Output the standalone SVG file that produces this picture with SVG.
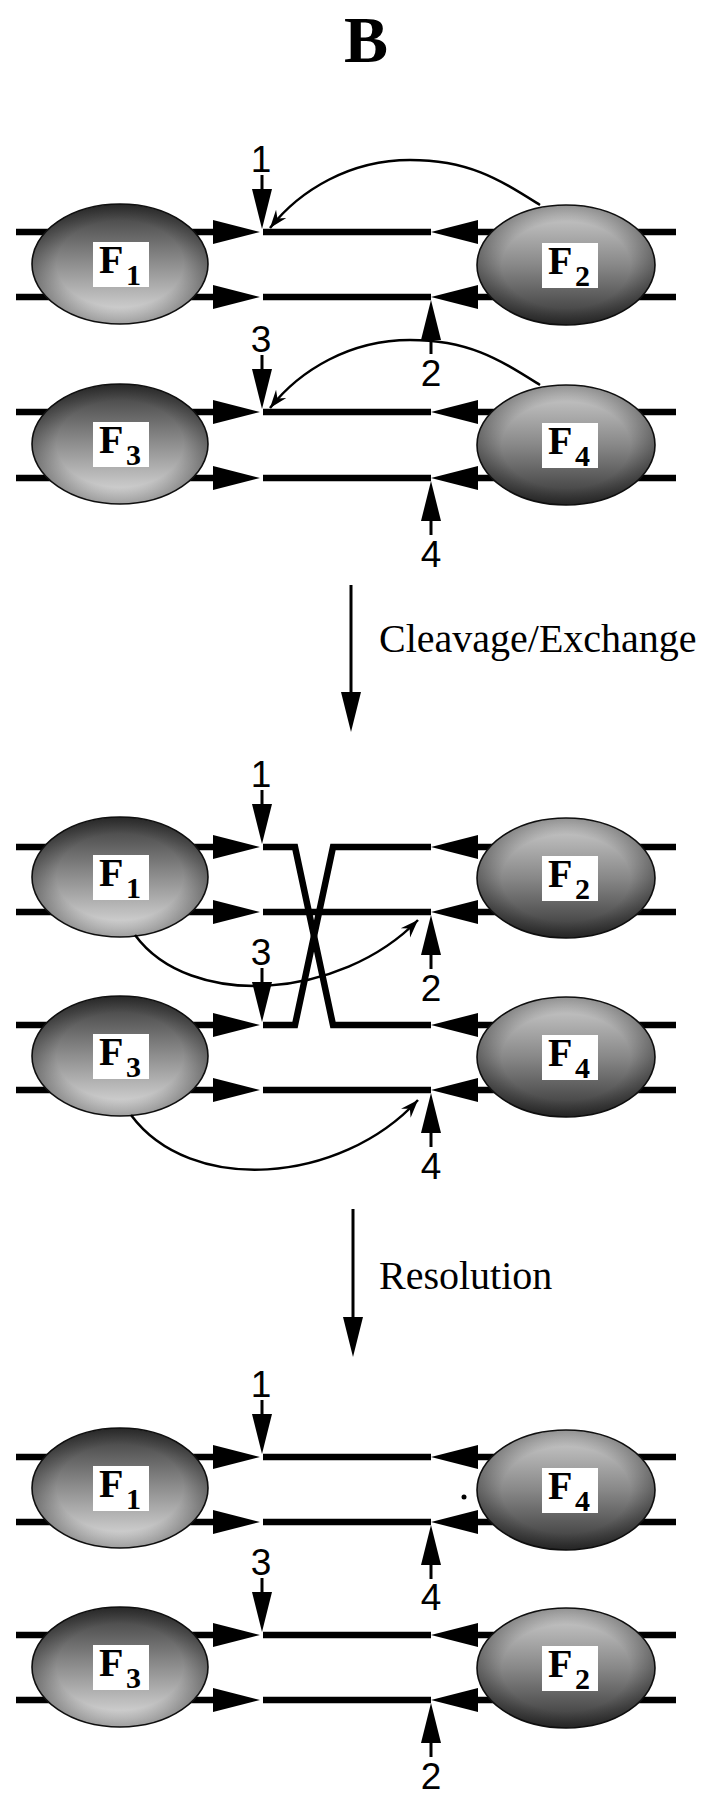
<svg xmlns="http://www.w3.org/2000/svg" xmlns:xlink="http://www.w3.org/1999/xlink" width="706" height="1800" viewBox="0 0 706 1800">
<style>
.strand{fill:none;stroke:#000;stroke-width:6.5;stroke-linejoin:miter;stroke-miterlimit:10}
.curve{fill:none;stroke:#000;stroke-width:2.5}
.shaft{stroke:#000;stroke-width:3}
.ell{stroke:#111;stroke-width:1.6}
.box{fill:#fff}
.F{font-family:"Liberation Serif","Times New Roman",serif;font-weight:bold;font-size:40px;fill:#000}
.sub{font-size:30px}
.num{font-family:"Liberation Sans Narrow","Liberation Sans",Arial,sans-serif;font-size:37px;fill:#000;text-anchor:middle}
.step{font-family:"Liberation Serif","Times New Roman",serif;font-size:40px;fill:#000}
</style>
<defs>
<linearGradient id="gL" x1="0" y1="0" x2="0" y2="1">
<stop offset="0" stop-color="#383838"/>
<stop offset="0.45" stop-color="#868686"/>
<stop offset="1" stop-color="#e2e2e2"/>
</linearGradient>
<linearGradient id="gR" x1="0" y1="0" x2="0" y2="1">
<stop offset="0" stop-color="#d0d0d0"/>
<stop offset="0.5" stop-color="#888"/>
<stop offset="1" stop-color="#333"/>
</linearGradient>
<radialGradient id="gEdge" cx="0.5" cy="0.5" r="0.5">
<stop offset="0.72" stop-color="#000" stop-opacity="0"/>
<stop offset="1" stop-color="#000" stop-opacity="0.3"/>
</radialGradient>
<polygon id="ahR" points="-47,-12 -47,12 0,0" fill="#000"/>
<polygon id="ahL" points="47,-12 47,12 0,0" fill="#000"/>
<g id="dn"><line class="shaft" x1="0" y1="-38" x2="0" y2="-54"/><polygon points="-10,-40 10,-40 0,0" fill="#000"/></g>
<g id="up"><line class="shaft" x1="0" y1="38" x2="0" y2="54"/><polygon points="-10,40 10,40 0,0" fill="#000"/></g>
<marker id="mh" markerUnits="userSpaceOnUse" markerWidth="22" markerHeight="16" viewBox="-18 -8 22 16" refX="0" refY="0" orient="auto">
<path d="M0,0 L-18,-6.5 L-12,0 L-18,6.5 Z" fill="#000"/>
</marker>
</defs>
<rect width="706" height="1800" fill="#fff"/>

<text id="title" x="366" y="62" text-anchor="middle" font-family="Liberation Serif,Times New Roman,serif" font-weight="bold" font-size="66">B</text>

<g id="strands">
<path class="strand" d="M16 232H215M263 232H431M476 232H676"/>
<path class="strand" d="M16 297H215M263 297H431M476 297H676"/>
<path class="strand" d="M16 412H215M263 412H431M476 412H676"/>
<path class="strand" d="M16 478H215M263 478H431M476 478H676"/>
<path class="strand" d="M16 847H215M476 847H676"/>
<path class="strand" d="M263 847H295L333 1025H431"/>
<path class="strand" d="M16 912H215M263 912H431M476 912H676"/>
<path class="strand" d="M16 1025H215M476 1025H676"/>
<path class="strand" d="M263 1025H295L333 847H431"/>
<path class="strand" d="M16 1090H215M263 1090H431M476 1090H676"/>
<path class="strand" d="M16 1457H215M263 1457H431M476 1457H676"/>
<path class="strand" d="M16 1522H215M263 1522H431M476 1522H676"/>
<path class="strand" d="M16 1635H215M263 1635H431M476 1635H676"/>
<path class="strand" d="M16 1700H215M263 1700H431M476 1700H676"/>
</g>

<g id="s1-F1"><ellipse class="ell" cx="120" cy="264" rx="88" ry="60" fill="url(#gL)"/><ellipse cx="120" cy="264" rx="88" ry="60" fill="url(#gEdge)"/><rect class="box" x="93" y="242" width="56" height="45"/><text class="F" x="99" y="273">F<tspan class="sub" x="126" y="285">1</tspan></text></g>
<g id="s1-F2"><ellipse class="ell" cx="566" cy="265" rx="89" ry="60" fill="url(#gR)"/><ellipse cx="566" cy="265" rx="89" ry="60" fill="url(#gEdge)"/><rect class="box" x="542" y="243" width="56" height="45"/><text class="F" x="548" y="274">F<tspan class="sub" x="575" y="286">2</tspan></text></g>
<g id="s1-F3"><ellipse class="ell" cx="120" cy="444" rx="88" ry="60" fill="url(#gL)"/><ellipse cx="120" cy="444" rx="88" ry="60" fill="url(#gEdge)"/><rect class="box" x="93" y="422" width="56" height="45"/><text class="F" x="99" y="453">F<tspan class="sub" x="126" y="465">3</tspan></text></g>
<g id="s1-F4"><ellipse class="ell" cx="566" cy="445" rx="89" ry="60" fill="url(#gR)"/><ellipse cx="566" cy="445" rx="89" ry="60" fill="url(#gEdge)"/><rect class="box" x="542" y="423" width="56" height="45"/><text class="F" x="548" y="454">F<tspan class="sub" x="575" y="466">4</tspan></text></g>

<g id="s2-F1"><ellipse class="ell" cx="120" cy="877" rx="88" ry="60" fill="url(#gL)"/><ellipse cx="120" cy="877" rx="88" ry="60" fill="url(#gEdge)"/><rect class="box" x="93" y="855" width="56" height="45"/><text class="F" x="99" y="886">F<tspan class="sub" x="126" y="898">1</tspan></text></g>
<g id="s2-F2"><ellipse class="ell" cx="566" cy="878" rx="89" ry="60" fill="url(#gR)"/><ellipse cx="566" cy="878" rx="89" ry="60" fill="url(#gEdge)"/><rect class="box" x="542" y="856" width="56" height="45"/><text class="F" x="548" y="887">F<tspan class="sub" x="575" y="899">2</tspan></text></g>
<g id="s2-F3"><ellipse class="ell" cx="120" cy="1056" rx="88" ry="60" fill="url(#gL)"/><ellipse cx="120" cy="1056" rx="88" ry="60" fill="url(#gEdge)"/><rect class="box" x="93" y="1034" width="56" height="45"/><text class="F" x="99" y="1065">F<tspan class="sub" x="126" y="1077">3</tspan></text></g>
<g id="s2-F4"><ellipse class="ell" cx="566" cy="1057" rx="89" ry="60" fill="url(#gR)"/><ellipse cx="566" cy="1057" rx="89" ry="60" fill="url(#gEdge)"/><rect class="box" x="542" y="1035" width="56" height="45"/><text class="F" x="548" y="1066">F<tspan class="sub" x="575" y="1078">4</tspan></text></g>

<g id="s3-F1"><ellipse class="ell" cx="120" cy="1488" rx="88" ry="60" fill="url(#gL)"/><ellipse cx="120" cy="1488" rx="88" ry="60" fill="url(#gEdge)"/><rect class="box" x="93" y="1466" width="56" height="45"/><text class="F" x="99" y="1497">F<tspan class="sub" x="126" y="1509">1</tspan></text></g>
<g id="s3-F4"><ellipse class="ell" cx="566" cy="1490" rx="89" ry="60" fill="url(#gR)"/><ellipse cx="566" cy="1490" rx="89" ry="60" fill="url(#gEdge)"/><rect class="box" x="542" y="1468" width="56" height="45"/><text class="F" x="548" y="1499">F<tspan class="sub" x="575" y="1511">4</tspan></text></g>
<g id="s3-F3"><ellipse class="ell" cx="120" cy="1667" rx="88" ry="60" fill="url(#gL)"/><ellipse cx="120" cy="1667" rx="88" ry="60" fill="url(#gEdge)"/><rect class="box" x="93" y="1645" width="56" height="45"/><text class="F" x="99" y="1676">F<tspan class="sub" x="126" y="1688">3</tspan></text></g>
<g id="s3-F2"><ellipse class="ell" cx="566" cy="1668" rx="89" ry="60" fill="url(#gR)"/><ellipse cx="566" cy="1668" rx="89" ry="60" fill="url(#gEdge)"/><rect class="box" x="542" y="1646" width="56" height="45"/><text class="F" x="548" y="1677">F<tspan class="sub" x="575" y="1689">2</tspan></text></g>

<g id="connectors">
<use href="#ahR" x="260" y="232"/><use href="#ahR" x="260" y="297"/><use href="#ahR" x="260" y="412"/><use href="#ahR" x="260" y="478"/>
<use href="#ahL" x="431" y="232"/><use href="#ahL" x="431" y="297"/><use href="#ahL" x="431" y="412"/><use href="#ahL" x="431" y="478"/>
<use href="#ahR" x="260" y="847"/><use href="#ahR" x="260" y="912"/><use href="#ahR" x="260" y="1025"/><use href="#ahR" x="260" y="1090"/>
<use href="#ahL" x="431" y="847"/><use href="#ahL" x="431" y="912"/><use href="#ahL" x="431" y="1025"/><use href="#ahL" x="431" y="1090"/>
<use href="#ahR" x="260" y="1457"/><use href="#ahR" x="260" y="1522"/><use href="#ahR" x="260" y="1635"/><use href="#ahR" x="260" y="1700"/>
<use href="#ahL" x="431" y="1457"/><use href="#ahL" x="431" y="1522"/><use href="#ahL" x="431" y="1635"/><use href="#ahL" x="431" y="1700"/>

<path class="curve" d="M540 205C500 180 470 160 410 160C350 160 300 190 270 228" marker-end="url(#mh)"/>
<path class="curve" d="M540 385C500 360 470 340 410 340C350 340 300 370 270 408" marker-end="url(#mh)"/>
<path class="curve" d="M135 935C190 1010 340 1000 418 920" marker-end="url(#mh)"/>
<path class="curve" d="M131 1115C190 1195 340 1185 418 1100" marker-end="url(#mh)"/>

<use href="#dn" x="262" y="229"/><use href="#up" x="431" y="300"/><use href="#dn" x="262" y="409"/><use href="#up" x="431" y="481"/>
<use href="#dn" x="262" y="844"/><use href="#up" x="431" y="915"/><use href="#dn" x="262" y="1022"/><use href="#up" x="431" y="1093"/>
<use href="#dn" x="262" y="1454"/><use href="#up" x="431" y="1525"/><use href="#dn" x="262" y="1632"/><use href="#up" x="431" y="1703"/>

<line class="shaft" x1="351" y1="585" x2="351" y2="694"/><polygon points="341,692 361,692 351,732"/>
<line class="shaft" x1="353" y1="1209" x2="353" y2="1319"/><polygon points="343,1317 363,1317 353,1357"/>
</g>

<g id="labels">
<text class="num" x="261" y="172">1</text><text class="num" x="431" y="386">2</text><text class="num" x="261" y="352">3</text><text class="num" x="431" y="567">4</text>
<text class="num" x="261" y="787">1</text><text class="num" x="431" y="1001">2</text><text class="num" x="261" y="965">3</text><text class="num" x="431" y="1179">4</text>
<text class="num" x="261" y="1397">1</text><text class="num" x="431" y="1610">4</text><text class="num" x="261" y="1575">3</text><text class="num" x="431" y="1789">2</text>
<text class="step" x="379" y="652">Cleavage/Exchange</text>
<text class="step" x="379" y="1289">Resolution</text>
</g>
<circle cx="464" cy="1497" r="2.5" fill="#000"/>
</svg>
